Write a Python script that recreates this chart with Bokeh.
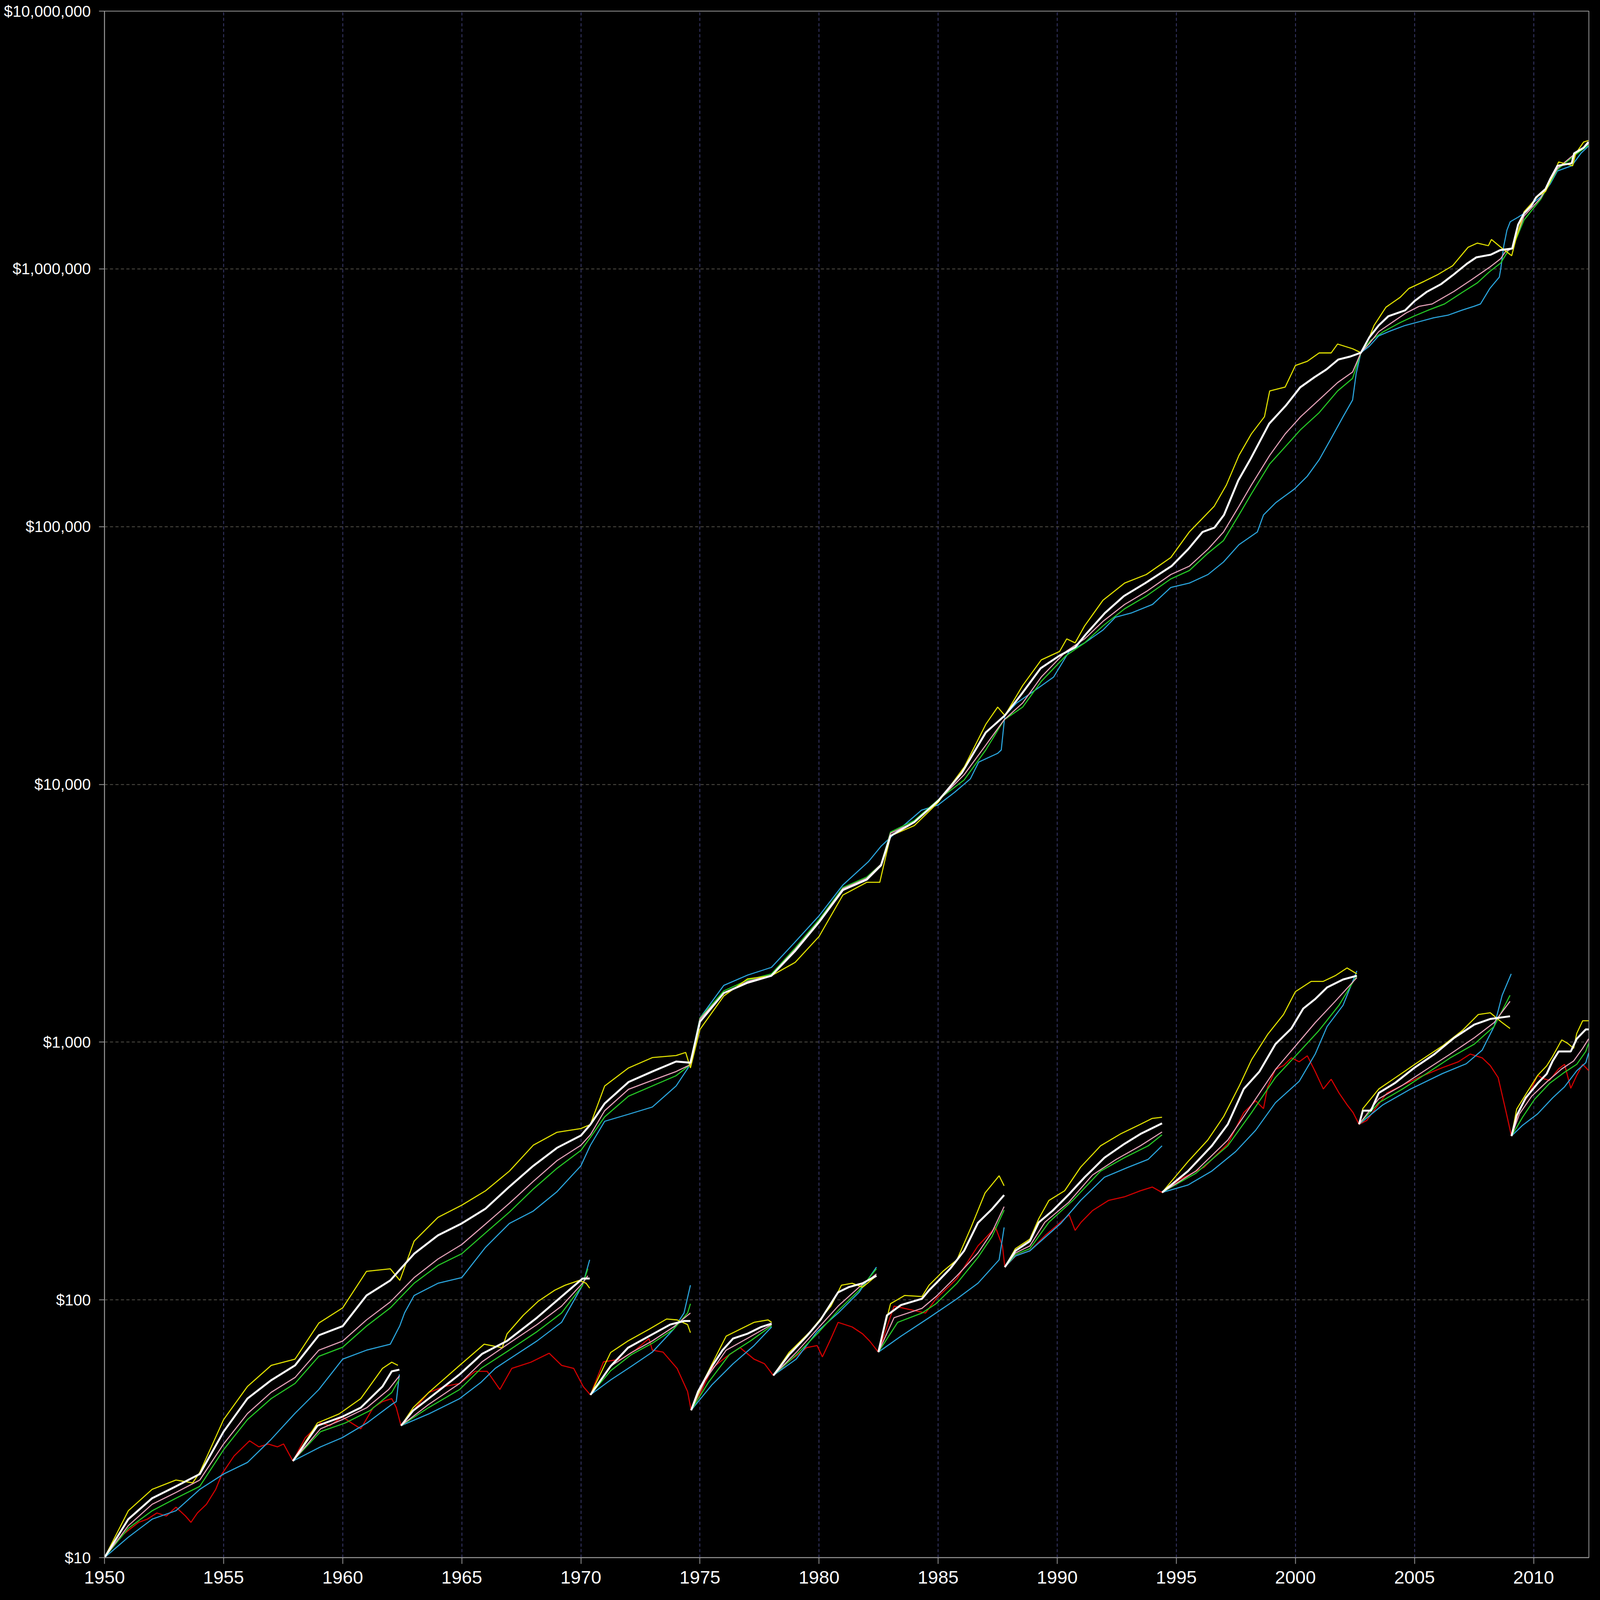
from bokeh.plotting import figure
from bokeh.models import Range1d, FixedTicker, NumeralTickFormatter
from bokeh.embed import file_html
from bokeh.resources import INLINE

# ---------------- data: (year, dollars) ----------------
MAIN_WHITE = [(1950.0, 10), (1951, 14.1), (1952, 17.0), (1953, 18.9), (1954, 21.1), (1955, 30.8),
              (1956, 41.4), (1957, 48.8), (1958, 55.7), (1959, 72.9), (1960, 79.1), (1961, 104),
              (1962, 119), (1963, 151), (1964, 178), (1965, 198), (1966, 226), (1967, 275),
              (1968, 331), (1969, 389), (1970, 434), (1970.4, 479), (1971, 578), (1972, 700),
              (1973, 769), (1974, 841), (1974.6, 832), (1975, 1200), (1976, 1550), (1977, 1700),
              (1978, 1810), (1979, 2260), (1980, 2920), (1981, 3890), (1982, 4270), (1982.6, 4850),
              (1983, 6310), (1984, 7140), (1985, 8630), (1986, 11100), (1987, 15900), (1987.8, 18500),
              (1988.5, 22400), (1989.3, 28200), (1990.1, 31600), (1990.75, 34000), (1991.2, 38200),
              (1992, 46200), (1992.8, 53800), (1993.7, 60400), (1994.8, 70300), (1995.5, 81800),
              (1996.1, 95300), (1996.6, 99100), (1997.0, 111000), (1997.6, 151000), (1998.1, 182000),
              (1998.9, 251000), (1999.6, 295000), (2000.2, 347000), (2000.8, 380000), (2001.3, 407000),
              (2001.8, 445000), (2002.3, 457000), (2002.75, 473000), (2003.1, 542000), (2003.5, 604000),
              (2003.9, 655000), (2004.6, 690000), (2005.0, 750000), (2005.5, 813000), (2006.1, 871000),
              (2006.6, 944000), (2007.2, 1047000), (2007.6, 1109000), (2008.2, 1135000),
              (2008.6, 1183000), (2009.1, 1199000), (2009.35, 1486000), (2009.6, 1644000),
              (2009.9, 1754000), (2010.1, 1892000), (2010.5, 2042000), (2010.7, 2234000),
              (2011.0, 2512000), (2011.6, 2570000), (2011.7, 2805000), (2012.1, 2951000),
              (2012.3, 3105000)]

MAIN_YELLOW = [(1950.0, 10), (1951, 15.2), (1952, 18.4), (1953, 20.0), (1953.7, 19.5), (1954, 21.4),
               (1955, 34.3), (1956, 46.1), (1957, 55.7), (1958, 58.9), (1959, 81.3), (1960, 93.1),
               (1961, 129), (1962, 132), (1962.4, 119), (1963, 169), (1964, 209), (1965, 233),
               (1966, 265), (1967, 316), (1968, 398), (1969, 447), (1970, 462), (1970.4, 479),
               (1971, 676), (1972, 794), (1973, 871), (1974, 887), (1974.4, 912), (1974.6, 794),
               (1975, 1120), (1976, 1510), (1977, 1760), (1978, 1810), (1979, 2040), (1980, 2570),
               (1981, 3720), (1982, 4170), (1982.55, 4170), (1983, 6310), (1984, 6920), (1985, 8510),
               (1986.1, 11700), (1987.0, 17100), (1987.5, 19950), (1987.8, 18500), (1988.55, 24200),
               (1989.33, 30400), (1990.1, 32800), (1990.4, 36700), (1990.75, 35400), (1991.15, 41200),
               (1991.92, 51800), (1992.83, 60400), (1993.74, 65200), (1994.77, 75900), (1995.55, 95500),
               (1996.07, 107000), (1996.59, 120000), (1997.1, 145000), (1997.63, 189000),
               (1998.15, 229000), (1998.7, 267000), (1998.92, 336000), (1999.57, 348000),
               (2000.0, 422000), (2000.5, 438000), (2001.0, 472000), (2001.5, 472000), (2001.77, 511000),
               (2002.4, 490000), (2002.75, 473000), (2003.1, 542000), (2003.3, 603000), (2003.8, 710000),
               (2004.4, 776000), (2004.76, 839000), (2005.41, 895000), (2006.0, 953000),
               (2006.6, 1028000), (2006.85, 1096000), (2007.25, 1213000), (2007.64, 1259000),
               (2008.1, 1230000), (2008.23, 1300000), (2008.69, 1199000), (2009.08, 1125000),
               (2009.28, 1327000), (2009.6, 1667000), (2010.2, 1919000), (2010.5, 1995000),
               (2010.72, 2203000), (2011.05, 2600000), (2011.64, 2512000), (2011.77, 2805000),
               (2012.1, 3105000), (2012.3, 3148000)]

MAIN_PINK = [(1950.0, 10), (1951, 13.3), (1952, 16.1), (1953, 17.9), (1954, 20.0), (1955, 27.6),
             (1956, 36.2), (1957, 43.8), (1958, 50.0), (1959, 63.8), (1960, 69.2), (1961, 83.6),
             (1962, 98.2), (1963, 122), (1964, 144), (1965, 164), (1966, 197), (1967, 237), (1968, 288),
             (1969, 347), (1970, 398), (1970.4, 437), (1971, 542), (1972, 656), (1973, 711), (1974, 769),
             (1974.6, 818), (1975, 1230), (1976, 1550), (1977, 1720), (1978, 1820), (1979, 2290),
             (1980, 2950), (1981, 3940), (1982, 4320), (1982.6, 4900), (1983, 6460), (1984, 7140),
             (1985, 8630), (1986.09, 10900), (1987.0, 14200), (1987.77, 17800), (1988.55, 20700),
             (1989.33, 26100), (1990.37, 32800), (1991.15, 36700), (1991.92, 42900), (1992.83, 49900),
             (1993.74, 56000), (1994.77, 65200), (1995.55, 70300), (1996.33, 81800), (1996.98, 95300),
             (1997.63, 120000), (1998.15, 145000), (1998.92, 189000), (1999.57, 229000),
             (2000.22, 267000), (2001.0, 311000), (2001.77, 362000), (2002.4, 398000),
             (2002.75, 473000), (2003.1, 513000), (2003.5, 571000), (2004.05, 619000),
             (2004.63, 673000), (2005.2, 716000), (2005.74, 731000), (2006.66, 818000),
             (2007.38, 906000), (2008.16, 1016000), (2008.62, 1096000), (2008.82, 1167000),
             (2009.1, 1199000), (2009.6, 1603000), (2010.3, 1884000), (2011.0, 2455000),
             (2011.65, 2754000), (2012.3, 3055000)]

MAIN_GREEN = [(1950.0, 10), (1951, 13.0), (1952, 15.2), (1953, 17.0), (1954, 18.9), (1955, 26.2),
              (1956, 34.3), (1957, 41.4), (1958, 47.4), (1959, 60.4), (1960, 65.5), (1961, 79.1),
              (1962, 93.1), (1963, 116), (1964, 136), (1965, 151), (1966, 182), (1967, 219), (1968, 269),
              (1969, 324), (1970, 380), (1970.4, 427), (1971, 513), (1972, 617), (1973, 676), (1974, 741),
              (1974.6, 818), (1975, 1240), (1976, 1580), (1977, 1740), (1978, 1840), (1979, 2320),
              (1980, 2990), (1981, 3980), (1982, 4370), (1982.6, 4900), (1983, 6530), (1984, 7240),
              (1985, 8710), (1986.09, 10400), (1987.0, 13600), (1987.77, 17800), (1988.55, 19950),
              (1989.33, 25100), (1990.37, 31600), (1991.15, 35400), (1991.92, 41200), (1992.83, 48000),
              (1993.74, 53800), (1994.77, 62700), (1995.55, 67600), (1996.33, 78900), (1996.98, 88300),
              (1997.63, 111000), (1998.15, 134000), (1998.92, 175000), (1999.57, 204000),
              (2000.22, 238000), (2001.0, 277000), (2001.77, 336000), (2002.4, 376000),
              (2002.75, 473000), (2003.15, 527000), (2003.7, 571000), (2004.4, 619000),
              (2004.97, 655000), (2005.55, 690000), (2006.26, 731000), (2006.99, 809000),
              (2007.64, 883000), (2008.16, 977000), (2008.62, 1054000), (2008.95, 1183000),
              (2009.1, 1199000), (2009.6, 1549000), (2010.3, 1862000), (2011.0, 2427000),
              (2011.65, 2723000), (2012.3, 3020000)]

MAIN_CYAN = [(1950.0, 10), (1951, 12.0), (1952, 14.1), (1953, 15.2), (1954, 18.4), (1955, 21.1),
             (1956, 23.4), (1957, 28.8), (1958, 36.3), (1959, 44.9), (1960, 58.9), (1961, 63.8),
             (1962, 67.3), (1962.4, 79.4), (1962.6, 89.1), (1963, 104), (1964, 116), (1965, 122),
             (1966, 160), (1967, 198), (1968, 221), (1969, 263), (1970, 331), (1970.4, 398),
             (1971, 493), (1972, 525), (1973, 560), (1974, 676), (1974.5, 794), (1974.6, 841),
             (1975, 1240), (1976, 1660), (1977, 1820), (1978, 1950), (1979, 2450), (1980, 3090),
             (1981, 4070), (1982.07, 5010), (1982.6, 5750), (1983.3, 6610), (1984.3, 7940),
             (1985.0, 8320), (1985.7, 9330), (1986.35, 10500), (1986.7, 12200), (1987.5, 13200),
             (1987.65, 13600), (1987.8, 18500), (1988.3, 20700), (1989.1, 23300), (1989.85, 26100),
             (1990.5, 32800), (1991.15, 35400), (1991.92, 39700), (1992.44, 44500), (1993.1, 46200),
             (1994.0, 49900), (1994.77, 58100), (1995.55, 60400), (1996.33, 65200), (1996.98, 72900),
             (1997.63, 85100), (1998.4, 95300), (1998.66, 111000), (1999.18, 124000),
             (1999.96, 140000), (2000.5, 157000), (2001.0, 182000), (2001.5, 220000),
             (2002.0, 267000), (2002.4, 310000), (2002.55, 392000), (2002.75, 473000),
             (2003.1, 501000), (2003.5, 550000), (2004.0, 575000), (2004.6, 603000), (2005.2, 624000),
             (2005.8, 646000), (2006.4, 661000), (2007.0, 692000), (2007.5, 716000),
             (2007.77, 731000), (2008.16, 839000), (2008.56, 929000), (2008.62, 1000000),
             (2008.75, 1230000), (2008.88, 1413000), (2009.02, 1524000), (2009.34, 1585000),
             (2009.6, 1641000), (2009.9, 1778000), (2010.3, 1905000), (2010.7, 2138000),
             (2011.0, 2399000), (2011.6, 2512000), (2012.0, 2818000), (2012.3, 2992000)]

RED = [(1950.0, 10), (1950.78, 12.3), (1951.43, 13.7), (1951.8, 14.1), (1952.2, 14.9), (1952.6, 14.5),
       (1953.0, 15.7), (1953.4, 14.5), (1953.63, 13.7), (1953.9, 14.9), (1954.28, 16.1),
       (1954.67, 18.4), (1954.93, 21.1), (1955.44, 24.8), (1955.83, 26.9), (1956.09, 28.4),
       (1956.48, 26.9), (1956.87, 27.6), (1957.26, 26.9), (1957.52, 27.6), (1957.91, 23.7),
       (1958.43, 29.2), (1959.07, 33.3), (1959.46, 32.5), (1959.98, 35.2), (1960.37, 33.3),
       (1960.76, 31.6), (1961.28, 38.2), (1961.67, 40.3), (1962.06, 41.4), (1962.25, 38.2),
       (1962.45, 32.5), (1962.96, 37.2), (1963.61, 43.7), (1964.26, 46.1), (1964.91, 47.4),
       (1965.56, 52.8), (1966.07, 52.8), (1966.6, 44.9), (1967.1, 54.2), (1967.9, 57.3),
       (1968.67, 62.1), (1969.19, 55.7), (1969.7, 54.2), (1970.1, 46.1), (1970.4, 42.8),
       (1970.95, 57.5), (1971.69, 58.9), (1972.28, 63.8), (1972.86, 70.8), (1973.0, 63.8),
       (1973.45, 62.7), (1974.04, 54.2), (1974.48, 44.1), (1974.63, 37.3), (1974.92, 41.4),
       (1975.5, 54.2), (1976.1, 60.1), (1976.68, 65.3), (1977.27, 58.9), (1977.71, 56.5),
       (1978.08, 50.9), (1978.74, 57.7), (1979.48, 65.3), (1979.92, 66.5), (1980.14, 60.1),
       (1980.5, 70.8), (1980.8, 81.8), (1981.39, 78.5), (1981.83, 73.8), (1982.12, 69.3),
       (1982.49, 62.7), (1983.15, 94.6), (1984.03, 90.8), (1984.47, 88.9), (1984.91, 101),
       (1985.79, 121), (1986.67, 162), (1987.41, 191), (1987.7, 162), (1987.8, 134), (1988.29, 149),
       (1988.85, 155), (1989.5, 178), (1990.0, 195), (1990.5, 214), (1990.75, 186), (1991.0, 200),
       (1991.48, 222), (1992.15, 243), (1992.82, 251), (1993.49, 265), (1993.99, 274), (1994.4, 261),
       (1995.16, 294), (1996.16, 327), (1997.16, 403), (1997.83, 533), (1998.33, 592),
       (1998.66, 552), (1998.83, 668), (1999.16, 783), (1999.5, 811), (1999.83, 869), (2000.16, 839),
       (2000.5, 885), (2000.83, 769), (2001.17, 658), (2001.5, 718), (2001.83, 635), (2002.17, 571),
       (2002.42, 533), (2002.67, 480), (2003.0, 497), (2003.84, 635), (2004.5, 681), (2005.17, 729),
       (2006.17, 796), (2006.84, 839), (2007.34, 899), (2007.84, 869), (2008.18, 811),
       (2008.51, 729), (2008.85, 533), (2009.07, 432), (2009.41, 550), (2009.79, 625),
       (2010.17, 743), (2010.42, 721), (2010.67, 711), (2011.05, 787), (2011.3, 820),
       (2011.56, 662), (2011.81, 743), (2012.06, 820), (2012.31, 776)]

# ---- restarted runs, each beginning at a trough of the red series ----
SEG1958_WHITE = [(1957.91, 23.7), (1958.94, 32.5), (1959.98, 35.2), (1960.76, 38.2), (1961.67, 46.1), (1962.06, 52.8), (1962.38, 53.6)]
SEG1958_YELLOW = [(1957.91, 23.7), (1958.94, 33.3), (1959.85, 36.1), (1960.76, 41.4), (1961.67, 54.2), (1962.06, 57.3), (1962.32, 55.7)]
SEG1958_PINK = [(1957.91, 23.7), (1959.07, 31.6), (1959.98, 34.3), (1961.02, 38.2), (1961.93, 44.9), (1962.38, 50.7)]
SEG1958_GREEN = [(1957.91, 23.7), (1959.07, 30.8), (1960.11, 33.3), (1961.15, 37.2), (1962.06, 43.7), (1962.38, 49.3)]
SEG1958_CYAN = [(1957.91, 23.7), (1959.07, 26.9), (1959.98, 29.2), (1961.02, 33.3), (1962.06, 39.3), (1962.25, 40.3), (1962.38, 51.4)]

SEG1962_WHITE = [(1962.45, 32.5), (1962.96, 37.2), (1963.61, 41.4), (1964.91, 51.4), (1965.85, 61.7), (1966.9, 69.3), (1968.16, 85.3), (1969.19, 103), (1970.07, 121), (1970.37, 121)]
SEG1962_YELLOW = [(1962.45, 32.5), (1962.96, 38.2), (1963.61, 43.7), (1964.91, 55.7), (1965.94, 67.3), (1966.7, 65.2), (1966.9, 73.8), (1967.58, 87.1), (1968.2, 98.6), (1968.9, 109), (1969.34, 114), (1969.93, 119), (1970.22, 116), (1970.37, 111)]
SEG1962_PINK = [(1962.45, 32.5), (1963.61, 39.3), (1964.91, 47.4), (1965.85, 57.5), (1966.99, 67.9), (1968.16, 80.2), (1969.19, 94.6), (1970.07, 116), (1970.29, 124)]
SEG1962_GREEN = [(1962.45, 32.5), (1963.61, 38.2), (1964.91, 44.9), (1965.81, 54.2), (1966.99, 63.8), (1968.16, 75.3), (1969.19, 88.9), (1970.07, 114), (1970.29, 132)]
SEG1962_CYAN = [(1962.45, 32.5), (1963.61, 36.1), (1964.91, 41.4), (1965.81, 47.9), (1966.4, 54.2), (1966.99, 58.9), (1968.16, 69.3), (1969.19, 81.8), (1970.07, 114), (1970.37, 143)]

SEG1970_WHITE = [(1970.4, 42.8), (1971.25, 55.3), (1971.98, 65.2), (1972.86, 72.3), (1973.75, 80.2), (1974.33, 82.8), (1974.6, 82.8)]
SEG1970_YELLOW = [(1970.4, 42.8), (1971.25, 62.5), (1971.98, 69.3), (1972.86, 76.9), (1973.6, 84.3), (1974.04, 83.6), (1974.48, 80.2), (1974.6, 74.6)]
SEG1970_PINK = [(1970.4, 42.8), (1971.25, 55.3), (1972.13, 62.5), (1973.0, 69.3), (1973.89, 78.5), (1974.48, 87.1), (1974.6, 88.9)]
SEG1970_GREEN = [(1970.4, 42.8), (1971.25, 53.1), (1972.13, 61.4), (1973.0, 67.9), (1973.89, 76.9), (1974.48, 88.9), (1974.6, 96.6)]
SEG1970_CYAN = [(1970.4, 42.8), (1971.25, 48.9), (1972.13, 55.3), (1973.0, 62.7), (1973.89, 76.9), (1974.33, 88.9), (1974.6, 114)]

SEG1974_WHITE = [(1974.63, 37.3), (1974.92, 44.1), (1975.51, 55.3), (1975.95, 63.8), (1976.39, 70.8), (1976.98, 73.8), (1977.57, 78.5), (1978.01, 80.9)]
SEG1974_YELLOW = [(1974.63, 37.3), (1975.22, 49.9), (1975.8, 63.8), (1976.1, 72.3), (1976.68, 76.9), (1977.27, 81.8), (1977.86, 83.6), (1978.01, 81.8)]
SEG1974_PINK = [(1974.63, 37.3), (1975.22, 48.9), (1976.1, 63.8), (1976.98, 70.8), (1978.01, 80.2)]
SEG1974_GREEN = [(1974.63, 37.3), (1975.36, 47.9), (1976.24, 61.4), (1977.12, 69.3), (1978.01, 79.4)]
SEG1974_CYAN = [(1974.63, 37.3), (1975.51, 46.9), (1976.39, 56.5), (1977.27, 66.5), (1978.01, 78.5)]

SEG1978_WHITE = [(1978.08, 50.9), (1978.74, 61.2), (1979.48, 72.3), (1980.06, 83.6), (1980.8, 107), (1981.24, 112), (1981.83, 116), (1982.41, 124)]
SEG1978_YELLOW = [(1978.08, 50.9), (1978.74, 62.5), (1979.62, 75.3), (1980.5, 94.6), (1980.94, 114), (1981.39, 116), (1981.83, 112), (1982.41, 124)]
SEG1978_PINK = [(1978.08, 50.9), (1979.04, 62.5), (1979.92, 76.9), (1980.8, 94.6), (1981.68, 112), (1982.41, 126)]
SEG1978_GREEN = [(1978.08, 50.9), (1979.04, 61.2), (1979.92, 73.8), (1980.8, 90.8), (1981.68, 109), (1982.41, 132)]
SEG1978_CYAN = [(1978.08, 50.9), (1979.04, 58.9), (1979.92, 75.3), (1980.8, 88.9), (1981.68, 107), (1982.41, 134)]

SEG1982_WHITE = [(1982.49, 62.7), (1982.85, 87.1), (1983.44, 95.5), (1984.32, 101), (1984.62, 109), (1984.91, 116), (1985.5, 132), (1986.09, 155), (1986.67, 199), (1987.26, 225), (1987.77, 255)]
SEG1982_YELLOW = [(1982.49, 62.7), (1983.0, 96.6), (1983.59, 104), (1984.32, 103), (1984.62, 114), (1985.2, 129), (1985.79, 143), (1986.38, 191), (1986.97, 260), (1987.56, 303), (1987.77, 277)]
SEG1982_PINK = [(1982.49, 62.7), (1983.15, 85.3), (1984.32, 92.7), (1984.91, 103), (1985.79, 124), (1986.67, 152), (1987.26, 183), (1987.77, 230)]
SEG1982_GREEN = [(1982.49, 62.7), (1983.3, 81.8), (1984.32, 88.9), (1984.91, 96.6), (1985.79, 116), (1986.67, 146), (1987.26, 176), (1987.77, 223)]
SEG1982_CYAN = [(1982.49, 62.7), (1983.44, 72.3), (1984.62, 85.3), (1985.79, 101), (1986.67, 116), (1987.56, 143), (1987.77, 191)]

SEG1987_WHITE = [(1987.8, 134), (1988.24, 155), (1988.85, 169), (1989.23, 200), (1989.81, 222), (1990.48, 256), (1991.15, 299), (1991.98, 356), (1992.82, 403), (1993.49, 440), (1994.4, 484)]
SEG1987_YELLOW = [(1987.8, 134), (1988.24, 158), (1988.85, 172), (1989.23, 207), (1989.65, 243), (1990.31, 265), (1990.98, 327), (1991.82, 396), (1992.65, 440), (1993.49, 480), (1993.99, 506), (1994.4, 511)]
SEG1987_PINK = [(1987.8, 134), (1988.24, 152), (1988.85, 162), (1989.48, 200), (1990.48, 239), (1991.48, 305), (1992.48, 351), (1993.49, 396), (1994.4, 448)]
SEG1987_GREEN = [(1987.8, 134), (1988.24, 150), (1988.85, 158), (1989.65, 200), (1990.65, 243), (1991.82, 316), (1992.82, 356), (1993.82, 396), (1994.4, 437)]
SEG1987_CYAN = [(1987.8, 134), (1988.24, 148), (1988.85, 155), (1990.15, 198), (1990.98, 243), (1991.98, 299), (1992.98, 327), (1993.82, 351), (1994.15, 376), (1994.4, 396)]

SEG1994_WHITE = [(1994.4, 261), (1995.49, 316), (1996.49, 396), (1997.16, 480), (1997.83, 658), (1998.49, 769), (1999.16, 982), (1999.83, 1130), (2000.33, 1350), (2000.83, 1470), (2001.33, 1630), (2002.0, 1750), (2002.58, 1810)]
SEG1994_YELLOW = [(1994.4, 261), (1995.49, 344), (1996.32, 417), (1996.99, 515), (1997.66, 681), (1998.16, 855), (1998.83, 1070), (1999.5, 1280), (2000.0, 1570), (2000.66, 1720), (2001.16, 1720), (2001.67, 1810), (2002.17, 1940), (2002.58, 1840)]
SEG1994_PINK = [(1994.4, 261), (1995.82, 316), (1997.16, 417), (1998.16, 571), (1999.16, 783), (2000.0, 966), (2000.83, 1190), (2001.67, 1440), (2002.58, 1780)]
SEG1994_GREEN = [(1994.4, 261), (1995.82, 310), (1997.16, 396), (1998.16, 533), (1999.16, 729), (2000.16, 916), (2000.99, 1110), (2001.83, 1390), (2002.58, 1810)]
SEG1994_CYAN = [(1994.4, 261), (1995.49, 279), (1996.49, 316), (1997.49, 376), (1998.33, 455), (1999.16, 582), (2000.16, 705), (2000.83, 899), (2001.33, 1150), (2002.0, 1390), (2002.58, 1890)]

SEG2002_WHITE = [(2002.67, 480), (2002.83, 542), (2003.17, 542), (2003.5, 635), (2004.17, 693), (2005.0, 796), (2005.84, 899), (2006.67, 1040), (2007.51, 1170), (2008.18, 1230), (2009.01, 1260)]
SEG2002_YELLOW = [(2002.67, 480), (2002.83, 552), (2003.5, 658), (2004.34, 743), (2005.17, 839), (2006.17, 966), (2007.01, 1110), (2007.68, 1280), (2008.18, 1300), (2008.68, 1190), (2009.01, 1130)]
SEG2002_PINK = [(2002.67, 480), (2003.5, 603), (2004.5, 681), (2005.5, 783), (2006.5, 899), (2007.51, 1040), (2008.34, 1190), (2009.01, 1440)]
SEG2002_GREEN = [(2002.67, 480), (2003.5, 582), (2004.5, 658), (2005.5, 755), (2006.5, 869), (2007.51, 982), (2008.34, 1150), (2009.01, 1520)]
SEG2002_CYAN = [(2002.67, 480), (2003.67, 571), (2004.84, 658), (2006.17, 755), (2007.17, 824), (2007.84, 931), (2008.34, 1150), (2008.68, 1520), (2009.06, 1840)]

SEG2009_WHITE = [(2009.07, 432), (2009.29, 519), (2009.67, 608), (2010.17, 692), (2010.55, 753), (2010.8, 845), (2011.05, 920), (2011.56, 920), (2011.81, 1030), (2012.19, 1120), (2012.31, 1120)]
SEG2009_YELLOW = [(2009.07, 432), (2009.29, 550), (2009.79, 653), (2010.17, 743), (2010.55, 809), (2010.8, 881), (2011.18, 1020), (2011.43, 989), (2011.68, 946), (2011.81, 1080), (2012.06, 1210), (2012.31, 1210)]
SEG2009_PINK = [(2009.07, 432), (2009.41, 527), (2009.92, 617), (2010.55, 701), (2011.18, 787), (2011.68, 845), (2012.06, 946), (2012.31, 1030)]
SEG2009_GREEN = [(2009.07, 432), (2009.54, 512), (2010.04, 600), (2010.67, 692), (2011.3, 764), (2011.81, 820), (2012.19, 920), (2012.31, 989)]
SEG2009_CYAN = [(2009.07, 432), (2009.54, 476), (2010.17, 527), (2010.8, 608), (2011.3, 671), (2011.81, 774), (2012.19, 832), (2012.31, 908)]

X_TICKS = [1950, 1955, 1960, 1965, 1970, 1975, 1980, 1985, 1990, 1995, 2000, 2005, 2010]
Y_TICKS = [10, 100, 1000, 10000, 100000, 1000000, 10000000]

GROUPS = {
    "cyan": [MAIN_CYAN, SEG1958_CYAN, SEG1962_CYAN, SEG1970_CYAN, SEG1974_CYAN, SEG1978_CYAN,
             SEG1982_CYAN, SEG1987_CYAN, SEG1994_CYAN, SEG2002_CYAN, SEG2009_CYAN],
    "green": [MAIN_GREEN, SEG1958_GREEN, SEG1962_GREEN, SEG1970_GREEN, SEG1974_GREEN, SEG1978_GREEN,
              SEG1982_GREEN, SEG1987_GREEN, SEG1994_GREEN, SEG2002_GREEN, SEG2009_GREEN],
    "pink": [MAIN_PINK, SEG1958_PINK, SEG1962_PINK, SEG1970_PINK, SEG1974_PINK, SEG1978_PINK,
             SEG1982_PINK, SEG1987_PINK, SEG1994_PINK, SEG2002_PINK, SEG2009_PINK],
    "red": [RED],
    "yellow": [MAIN_YELLOW, SEG1958_YELLOW, SEG1962_YELLOW, SEG1970_YELLOW, SEG1974_YELLOW, SEG1978_YELLOW,
               SEG1982_YELLOW, SEG1987_YELLOW, SEG1994_YELLOW, SEG2002_YELLOW, SEG2009_YELLOW],
    "white": [MAIN_WHITE, SEG1958_WHITE, SEG1962_WHITE, SEG1970_WHITE, SEG1974_WHITE, SEG1978_WHITE,
              SEG1982_WHITE, SEG1987_WHITE, SEG1994_WHITE, SEG2002_WHITE, SEG2009_WHITE],
}
COLORS = {"cyan": "#2aa4dc", "green": "#26c826", "pink": "#e4a2b8", "red": "#d40000",
          "yellow": "#e0e000", "white": "#ffffff"}
WIDTHS = {"cyan": 2.8, "green": 2.8, "pink": 2.8, "red": 2.8, "yellow": 2.8, "white": 5}

# ---------------- figure (sized so the whole chart is captured) ----------------
p = figure(width=4076, height=4076, y_axis_type="log",
           x_range=Range1d(1950, 2012.32), y_range=Range1d(10, 10000000),
           output_backend="svg", toolbar_location=None,
           min_border_left=267, min_border_right=9, min_border_top=28, min_border_bottom=89)
p.background_fill_color = "#000000"
p.border_fill_color = "#000000"
p.outline_line_color = "#9a9a9a"
p.outline_line_width = 2

for ax in (p.xaxis[0], p.yaxis[0]):
    ax.axis_line_color = "#9a9a9a"
    ax.axis_line_width = 2
    ax.major_tick_line_color = "#9a9a9a"
    ax.major_tick_line_width = 2
    ax.major_tick_in = 0
    ax.minor_tick_line_color = None
    ax.major_label_text_color = "#ffffff"
    ax.major_label_text_font = "Liberation Sans"

p.xaxis.ticker = FixedTicker(ticks=X_TICKS)
p.xaxis.major_tick_out = 16
p.xaxis.major_label_standoff = 18
p.xaxis.major_label_text_font_size = "47px"

p.yaxis.ticker = FixedTicker(ticks=Y_TICKS)
p.yaxis.formatter = NumeralTickFormatter(format="$0,0")
p.yaxis.major_tick_out = 14
p.yaxis.major_label_standoff = 21
p.yaxis.major_label_text_font_size = "40px"

p.xgrid.grid_line_color = "#3c3c72"
p.xgrid.grid_line_dash = "8 6"
p.xgrid.grid_line_width = 2
p.ygrid.grid_line_color = "#55524a"
p.ygrid.grid_line_dash = "8 6"
p.ygrid.grid_line_width = 2

for name in ["red", "cyan", "green", "pink", "yellow", "white"]:
    series = GROUPS[name]
    xs = [[pt[0] for pt in s] for s in series]
    ys = [[pt[1] for pt in s] for s in series]
    p.multi_line(xs=xs, ys=ys, line_color=COLORS[name], line_width=WIDTHS[name])

html = file_html(p, INLINE, title="Growth of $10")
html = html.replace("<head>", "<head><style>body{background:#000000;}</style>", 1)
open("out.html", "w").write(html)
